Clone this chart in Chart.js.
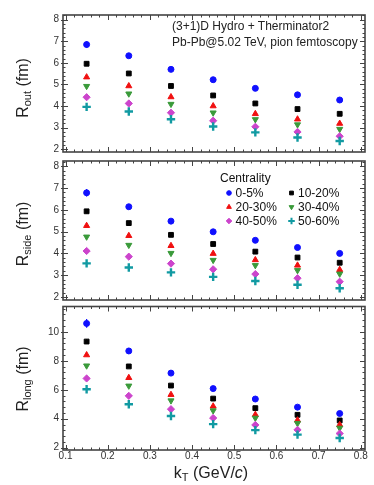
<!DOCTYPE html>
<html>
<head>
<meta charset="utf-8">
<script src="https://cdn.jsdelivr.net/npm/chart.js@4/dist/chart.umd.min.js"></script>
<style>
    body { margin: 0; background: #fff; font-family: "Liberation Sans", Arial, sans-serif; }
    #wrap { position: relative; width: 374px; height: 485px; overflow: hidden; }
    .panel { position: absolute; left: 0; width: 374px; }
    .ytitle {
        position: absolute; left: 23px; font-size: 16px; color: #222; white-space: nowrap;
        transform: translate(-50%, -50%) rotate(-90deg);
    }
    .ytitle sub, .xtitle sub { font-size: 11px; vertical-align: -3px; }
    .xtitle { position: absolute; left: 211px; top: 473px; font-size: 16px; color: #222; white-space: nowrap; transform: translate(-50%, -50%); }
    .note { position: absolute; left: 172px; font-size: 12px; color: #222; white-space: nowrap; }
</style>
</head>
<body>
<div id="wrap">
    <div class="panel" style="top:0;height:162px"><canvas id="outChart" width="374" height="162"></canvas></div>
    <div class="panel" style="top:150px;height:160px"><canvas id="sideChart" width="374" height="160"></canvas></div>
    <div class="panel" style="top:296px;height:189px"><canvas id="longChart" width="374" height="189"></canvas></div>

    <div class="ytitle" style="top:88px">R<sub>out</sub> (fm)</div>
    <div class="ytitle" style="top:234px">R<sub>side</sub> (fm)</div>
    <div class="ytitle" style="top:379px">R<sub>long</sub> (fm)</div>
    <div class="xtitle">k<sub>T</sub> (GeV/<i>c</i>)</div>
    <div class="note" style="top:19px">(3+1)D Hydro + Therminator2</div>
    <div class="note" style="top:35px">Pb-Pb@5.02 TeV, pion femtoscopy</div>
</div>

<script>
// ===== 数据 =====
const kT = [0.15, 0.25, 0.35, 0.45, 0.55, 0.65, 0.75];
const centralities = ['0-5%', '10-20%', '20-30%', '30-40%', '40-50%', '50-60%'];

// R_out (fm)
const rOut_0_5   = [6.85, 6.33, 5.70, 5.22, 4.82, 4.52, 4.28];
const rOut_10_20 = [5.96, 5.51, 4.93, 4.49, 4.12, 3.86, 3.64];
const rOut_20_30 = [5.34, 4.93, 4.42, 4.00, 3.64, 3.39, 3.19];
const rOut_30_40 = [4.92, 4.57, 4.09, 3.69, 3.38, 3.14, 2.93];
const rOut_40_50 = [4.41, 4.12, 3.69, 3.32, 3.04, 2.80, 2.60];
const rOut_50_60 = [3.96, 3.75, 3.39, 3.05, 2.78, 2.54, 2.38];

// R_side (fm)
const rSide_0_5   = [6.78, 6.14, 5.48, 4.99, 4.60, 4.27, 4.00];
const rSide_10_20 = [5.93, 5.39, 4.85, 4.43, 4.08, 3.81, 3.57];
const rSide_20_30 = [5.27, 4.81, 4.35, 3.99, 3.70, 3.45, 3.25];
const rSide_30_40 = [4.76, 4.38, 4.01, 3.69, 3.45, 3.22, 3.06];
const rSide_40_50 = [4.11, 3.85, 3.53, 3.27, 3.05, 2.86, 2.70];
const rSide_50_60 = [3.54, 3.35, 3.13, 2.92, 2.73, 2.56, 2.40];

// R_long (fm)
const rLong_0_5   = [10.58, 8.68, 7.15, 6.08, 5.36, 4.80, 4.36];
const rLong_10_20 = [9.33, 7.61, 6.29, 5.39, 4.73, 4.27, 3.88];
const rLong_20_30 = [8.40, 6.83, 5.66, 4.86, 4.28, 3.90, 3.58];
const rLong_30_40 = [7.66, 6.27, 5.25, 4.56, 4.05, 3.68, 3.36];
const rLong_40_50 = [6.78, 5.58, 4.66, 4.05, 3.57, 3.23, 2.98];
const rLong_50_60 = [6.04, 5.00, 4.19, 3.63, 3.21, 2.90, 2.67];

// 误差 (只有最中心的两组看得见)
const errOut_0_5    = [0.15, 0.09, 0, 0, 0, 0, 0];
const errOut_10_20  = [0.10, 0, 0, 0, 0, 0, 0];
const errSide_0_5   = [0.17, 0.12, 0, 0, 0, 0, 0];
const errSide_10_20 = [0.10, 0, 0, 0, 0, 0, 0];
const errLong_0_5   = [0.30, 0.20, 0, 0, 0, 0, 0];
const errLong_10_20 = [0.15, 0, 0, 0, 0, 0, 0];

// 刻度
const xTicks = [0.1, 0.2, 0.3, 0.4, 0.5, 0.6, 0.7, 0.8];
const yTicksOut = [2, 3, 4, 5, 6, 7, 8];
const yTicksSide = [2, 3, 4, 5, 6, 7, 8];
const yTicksLong = [2, 4, 6, 8, 10];

// ===== 样式 =====
const markerStyles = [
    { pointStyle: 'circle',   color: '#1010ff', radius: 3.0, rotation: 0,   lw: 1 },
    { pointStyle: 'rect',     color: '#000000', radius: 3.4, rotation: 0,   lw: 1 },
    { pointStyle: 'triangle', color: '#f01010', radius: 3.5, rotation: 0,   lw: 1 },
    { pointStyle: 'triangle', color: '#3a9a3a', radius: 3.5, rotation: 180, lw: 1 },
    { pointStyle: 'rectRot',  color: '#cc44cc', radius: 3.6, rotation: 0,   lw: 1 },
    { pointStyle: 'cross',    color: '#119aa2', radius: 4.2, rotation: 0,   lw: 2.4 }
];
const frameColor = '#444';
const tickFont = { family: 'Liberation Sans', size: 10 };

function makeDatasets(seriesList, errList) {
    return seriesList.map((vals, i) => {
        const m = markerStyles[i];
        return {
            label: centralities[i],
            data: vals.map((v, j) => ({ x: kT[j], y: v })),
            errors: errList[i] || null,
            pointStyle: m.pointStyle,
            pointRadius: m.radius,
            pointRotation: m.rotation,
            backgroundColor: m.color,
            borderColor: m.color,
            borderWidth: m.lw,
            showLine: false
        };
    }).reverse();   // 中心度高的画在最上层
}

// 误差棒
const errorBarPlugin = {
    id: 'errorBars',
    beforeDatasetsDraw(chart) {
        const ctx = chart.ctx;
        const ys = chart.scales.y;
        chart.data.datasets.forEach((ds, di) => {
            if (!ds.errors) return;
            const meta = chart.getDatasetMeta(di);
            ctx.save();
            ctx.strokeStyle = ds.borderColor;
            ctx.lineWidth = 1.2;
            ds.data.forEach((p, i) => {
                const e = ds.errors[i];
                if (!e) return;
                const px = meta.data[i].x;
                ctx.beginPath();
                ctx.moveTo(px, ys.getPixelForValue(p.y - e));
                ctx.lineTo(px, ys.getPixelForValue(p.y + e));
                ctx.stroke();
            });
            ctx.restore();
        });
    }
};

// 边框 + 向内刻度 (四边)
const framePlugin = {
    id: 'frame',
    afterDraw(chart, args, opts) {
        const { ctx, chartArea: a } = chart;
        const xs = chart.scales.x, ys = chart.scales.y;
        ctx.save();
        ctx.strokeStyle = frameColor;
        ctx.lineWidth = 1;
        ctx.beginPath();
        // x 方向
        for (let k = 0; k <= 45; k++) {
            const v = 0.08 + k * 0.02;
            if (v < xs.min - 1e-9 || v > xs.max + 1e-9) continue;
            const major = Math.abs(v * 10 - Math.round(v * 10)) < 1e-6;
            const len = major ? 5 : 2.5;
            const px = Math.round(xs.getPixelForValue(v)) + 0.5;
            ctx.moveTo(px, a.bottom); ctx.lineTo(px, a.bottom - len);
            ctx.moveTo(px, a.top);    ctx.lineTo(px, a.top + len);
        }
        // y 方向
        const step = opts.minor;
        for (let v = Math.ceil(ys.min / step) * step; v <= ys.max + 1e-9; v += step) {
            const major = opts.majors.some(m => Math.abs(m - v) < 1e-6);
            const len = major ? 5 : 2.5;
            const py = Math.round(ys.getPixelForValue(v)) + 0.5;
            ctx.moveTo(a.left, py);  ctx.lineTo(a.left + len, py);
            ctx.moveTo(a.right, py); ctx.lineTo(a.right - len, py);
            if (major) { ctx.moveTo(a.left, py); ctx.lineTo(a.left - 2, py); }
        }
        ctx.stroke();
        ctx.lineWidth = 1.6;
        ctx.strokeRect(a.left, a.top, a.right - a.left, a.bottom - a.top);
        ctx.restore();
    }
};

// 图例 (两列)
const legendPlugin = {
    id: 'centralityLegend',
    afterDraw(chart, args, opts) {
        if (!opts.show) return;
        const ctx = chart.ctx;
        const top = chart.chartArea.top;
        ctx.save();
        ctx.fillStyle = '#111';
        ctx.font = '12px "Liberation Sans", Arial, sans-serif';
        ctx.textBaseline = 'middle';
        ctx.textAlign = 'left';
        ctx.fillText('Centrality', 220, top + 18);
        centralities.forEach((c, i) => {
            const col = i % 2, row = Math.floor(i / 2);
            const mx = col ? 291.5 : 229;
            const my = top + 32 + row * 14;
            const m = markerStyles[i];
            ctx.fillStyle = m.color;
            ctx.strokeStyle = m.color;
            ctx.lineWidth = m.pointStyle === 'cross' ? 2 : 1;
            Chart.helpers.drawPoint(ctx, {
                pointStyle: m.pointStyle, radius: m.radius * 0.78,
                rotation: m.rotation, borderWidth: ctx.lineWidth
            }, mx, my);
            ctx.fillStyle = '#111';
            ctx.fillText(c, mx + 6.5, my + 0.5);
        });
        ctx.restore();
    }
};

function makeChart(id, series, errs, yMin, yMax, yTicks, minorStep, showX, pad, legend) {
    return new Chart(document.getElementById(id), {
        type: 'scatter',
        data: { datasets: makeDatasets(series, errs) },
        plugins: [errorBarPlugin, framePlugin, legendPlugin],
        options: {
            responsive: false,
            animation: false,
            layout: { padding: { left: 0, right: 9, top: pad[0], bottom: pad[1] } },
            scales: {
                x: {
                    type: 'linear', min: 0.094, max: 0.81,
                    display: showX,
                    grid: { display: false, drawTicks: false },
                    border: { display: false },
                    afterBuildTicks: s => { s.ticks = xTicks.map(v => ({ value: v })); },
                    afterFit: s => { s.height = showX ? 35 : 0; },
                    ticks: { padding: 0, color: '#333', font: tickFont, maxRotation: 0,
                             callback: v => v.toFixed(1) }
                },
                y: {
                    min: yMin, max: yMax,
                    grid: { display: false, drawTicks: false },
                    border: { display: false },
                    afterBuildTicks: s => { s.ticks = yTicks.map(v => ({ value: v })); },
                    afterFit: s => { s.width = 63; },
                    ticks: { padding: 4, color: '#333', font: tickFont }
                }
            },
            plugins: {
                legend: { display: false },
                tooltip: { enabled: false },
                frame: { minor: minorStep, majors: yTicks },
                centralityLegend: { show: legend }
            }
        }
    });
}

makeChart('outChart',
    [rOut_0_5, rOut_10_20, rOut_20_30, rOut_30_40, rOut_40_50, rOut_50_60],
    [errOut_0_5, errOut_10_20],
    1.87, 8.22, yTicksOut, 0.2, false, [15, 2], false);

makeChart('sideChart',
    [rSide_0_5, rSide_10_20, rSide_20_30, rSide_30_40, rSide_40_50, rSide_50_60],
    [errSide_0_5, errSide_10_20],
    1.86, 8.24, yTicksSide, 0.2, false, [11, 3.5], true);

makeChart('longChart',
    [rLong_0_5, rLong_10_20, rLong_20_30, rLong_30_40, rLong_40_50, rLong_50_60],
    [errLong_0_5, errLong_10_20],
    1.84, 11.75, yTicksLong, 0.4, true, [10.5, 0], false);
</script>
</body>
</html>
